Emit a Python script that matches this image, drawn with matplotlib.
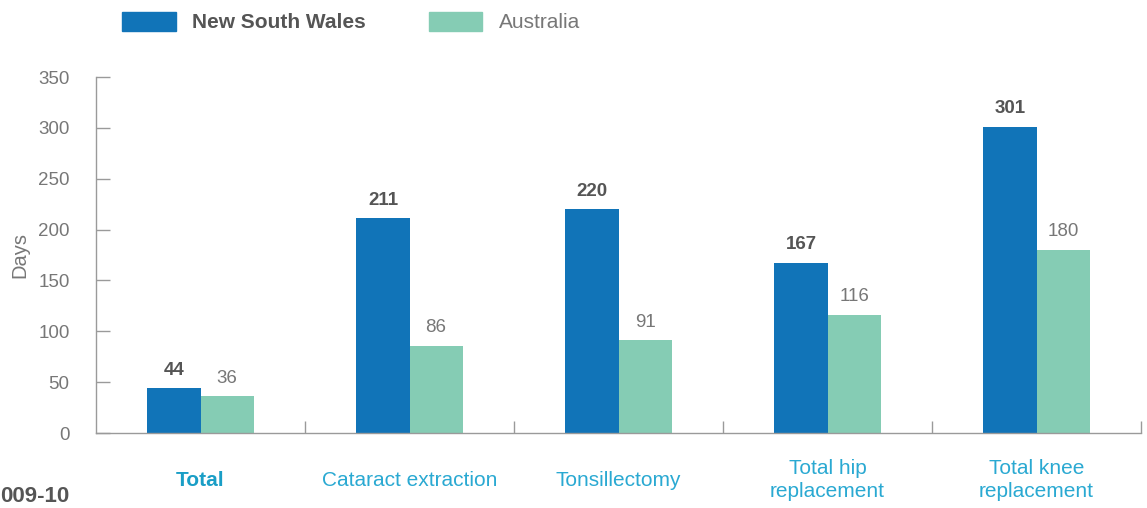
import numpy as np
import matplotlib
matplotlib.use('Agg')
import matplotlib.pyplot as plt
from matplotlib.patches import Patch

categories = ['Total', 'Cataract extraction', 'Tonsillectomy',
              'Total hip\nreplacement', 'Total knee\nreplacement']
nsw_days = [44, 211, 220, 167, 301]
aus_days = [36, 86, 91, 116, 180]
y_ticks = [0, 50, 100, 150, 200, 250, 300, 350]

nsw_color = '#1174b8'
aus_color = '#85ccb4'
label_blue = '#2aa9d2'
grey_text = '#777777'
dark_text = '#555555'
axis_grey = '#9a9a9a'

plt.rcParams['font.family'] = ['Liberation Sans', 'DejaVu Sans']

fig = plt.figure(figsize=(11.47, 5.08), dpi=100)
ax = fig.add_axes([0.0837, 0.1476, 0.9111, 0.7008])

x = np.arange(len(categories))
w = 0.254
b1 = ax.bar(x - w / 2, nsw_days, w, color=nsw_color)
b2 = ax.bar(x + w / 2, aus_days, w, color=aus_color)

for rect, v in zip(b1, nsw_days):
    ax.annotate(str(v), (rect.get_x() + rect.get_width() / 2, v),
                xytext=(0, 7), textcoords='offset points', ha='center',
                va='bottom', fontsize=13.5, fontweight='bold', color=dark_text)
for rect, v in zip(b2, aus_days):
    ax.annotate(str(v), (rect.get_x() + rect.get_width() / 2, v),
                xytext=(0, 7), textcoords='offset points', ha='center',
                va='bottom', fontsize=13.5, color=grey_text)

ax.set_xlim(-0.5, len(categories) - 0.5)
ax.set_ylim(0, 350)

for s in ['top', 'right']:
    ax.spines[s].set_visible(False)
for s in ['left', 'bottom']:
    ax.spines[s].set_color(axis_grey)
    ax.spines[s].set_linewidth(1.0)

ax.set_yticks(y_ticks)
ax.tick_params(axis='y', direction='in', length=10, width=1, color=axis_grey,
               pad=19, labelsize=13.5, labelcolor=grey_text)
ax.set_ylabel('Days', fontsize=14.5, color=grey_text)
ax.yaxis.set_label_coords(-0.064, 0.5)

ax.set_xticks(x)
ax.set_xticklabels(categories)
ax.set_xticks(np.arange(len(categories)) + 0.5, minor=True)
ax.tick_params(axis='x', which='major', length=0, pad=34, labelsize=15,
               labelcolor=label_blue)
ax.tick_params(axis='x', which='minor', direction='in', length=9, width=1,
               color=axis_grey)
for i, lab in enumerate(ax.get_xticklabels()):
    lab.set_va('center')
    lab.set_multialignment('center')
    lab.set_linespacing(1.25)
    if i == 0:
        lab.set_fontweight('bold')
        lab.set_color('#1a9ec6')

handles = [Patch(color=nsw_color), Patch(color=aus_color)]
leg = fig.legend(handles, ['New South Wales', 'Australia'], loc='center left',
                 bbox_to_anchor=(0.0977, 0.9567), ncol=2, frameon=False,
                 borderpad=0, handlelength=2.55, handleheight=1.06,
                 handletextpad=0.77, columnspacing=3.07, fontsize=15)
texts = leg.get_texts()
texts[0].set_fontweight('bold')
texts[0].set_color(dark_text)
texts[1].set_color(grey_text)

fig.text(0.0, 0.002, '009-10', fontsize=16, fontweight='bold',
         color=dark_text, ha='left', va='bottom')

fig.savefig('out.png', dpi=100)
